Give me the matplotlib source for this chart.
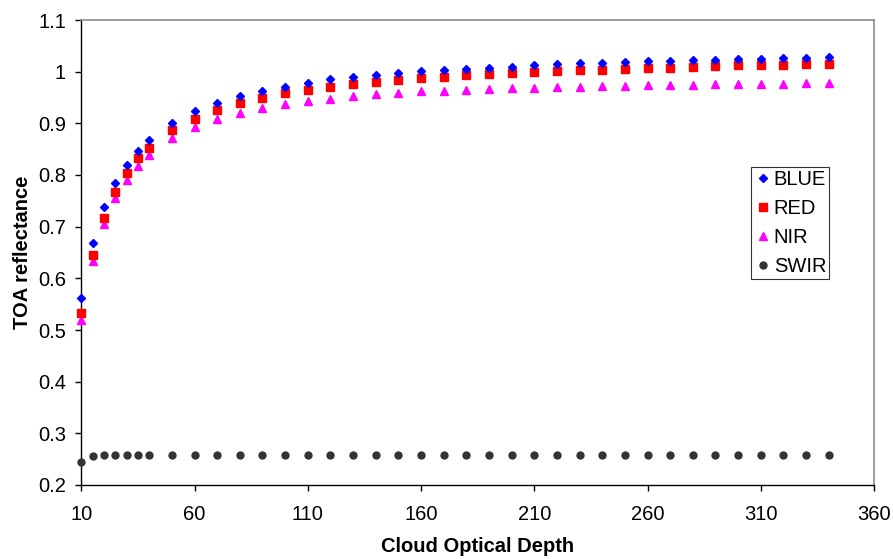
import matplotlib
matplotlib.use("Agg")
import matplotlib.pyplot as plt

plt.rcParams['font.family'] = ['Liberation Sans', 'DejaVu Sans']

# Cloud optical depth samples
depth = [10, 15, 20, 25, 30, 35, 40, 50, 60, 70, 80, 90, 100, 110, 120, 130,
         140, 150, 160, 170, 180, 190, 200, 210, 220, 230, 240, 250, 260, 270,
         280, 290, 300, 310, 320, 330, 340]

blue = [0.562, 0.668, 0.738, 0.785, 0.819, 0.847, 0.868, 0.900, 0.923, 0.940,
        0.953, 0.963, 0.971, 0.979, 0.985, 0.989, 0.994, 0.998, 1.001, 1.003,
        1.006, 1.008, 1.010, 1.012, 1.014, 1.016, 1.017, 1.019, 1.020, 1.021,
        1.022, 1.023, 1.024, 1.025, 1.026, 1.027, 1.028]

red = [0.532, 0.645, 0.717, 0.767, 0.804, 0.833, 0.853, 0.887, 0.909, 0.926,
       0.939, 0.950, 0.958, 0.965, 0.971, 0.976, 0.980, 0.984, 0.987, 0.990,
       0.993, 0.996, 0.998, 0.9995, 1.001, 1.003, 1.004, 1.006, 1.007, 1.008,
       1.009, 1.011, 1.012, 1.012, 1.013, 1.014, 1.015]

nir = [0.519, 0.633, 0.705, 0.755, 0.791, 0.818, 0.839, 0.871, 0.893, 0.909,
       0.920, 0.930, 0.937, 0.943, 0.948, 0.953, 0.956, 0.959, 0.962, 0.963,
       0.965, 0.967, 0.968, 0.969, 0.970, 0.971, 0.972, 0.973, 0.974, 0.974,
       0.975, 0.976, 0.976, 0.977, 0.977, 0.978, 0.978]

swir = [0.245, 0.257, 0.259, 0.259, 0.259, 0.259, 0.259, 0.259, 0.259, 0.259,
        0.259, 0.259, 0.259, 0.259, 0.259, 0.259, 0.259, 0.259, 0.259, 0.259,
        0.259, 0.259, 0.259, 0.259, 0.259, 0.259, 0.259, 0.259, 0.259, 0.259,
        0.259, 0.259, 0.259, 0.259, 0.259, 0.259, 0.259]

x_ticks = [10, 60, 110, 160, 210, 260, 310, 360]
y_ticks = [0.2, 0.3, 0.4, 0.5, 0.6, 0.7, 0.8, 0.9, 1.0, 1.1]
y_tick_labels = ['0.2', '0.3', '0.4', '0.5', '0.6', '0.7', '0.8', '0.9', '1', '1.1']

fig = plt.figure(figsize=(8.93, 5.59), dpi=100)
ax = fig.add_axes([81.3 / 893, 1 - 485 / 559, (874 - 81.3) / 893, (485 - 20) / 559])

ax.plot(depth, blue, linestyle='none', marker='D', markersize=4.4,
        color='#0000ff', label='BLUE', clip_on=False, zorder=5)
ax.plot(depth, red, linestyle='none', marker='s', markersize=5.8,
        color='#ff0000', label='RED', clip_on=False, zorder=4)
ax.plot(depth, nir, linestyle='none', marker='^', markersize=6.0,
        color='#ff00ff', label='NIR', clip_on=False, zorder=3)
ax.plot(depth, swir, linestyle='none', marker='o', markersize=5.0,
        color='#333333', label='SWIR', clip_on=False, zorder=3)

ax.set_xlim(10, 360)
ax.set_ylim(0.2, 1.1)
ax.set_xticks(x_ticks)
ax.set_xticklabels([str(t) for t in x_ticks])
ax.set_yticks(y_ticks)
ax.set_yticklabels(y_tick_labels)

ax.tick_params(axis='both', direction='out', length=4, width=1,
               labelsize=14.5, colors='black')
ax.tick_params(axis='y', pad=7)
ax.tick_params(axis='x', pad=10.5)

for side in ('top', 'right'):
    ax.spines[side].set_color('#8c8c8c')
    ax.spines[side].set_linewidth(1.2)
for side in ('left', 'bottom'):
    ax.spines[side].set_color('black')
    ax.spines[side].set_linewidth(1.0)

ax.set_xlabel('Cloud Optical Depth', fontsize=14.5, fontweight='bold', labelpad=9.5)
ax.set_ylabel('TOA reflectance', fontsize=14.5, fontweight='bold', labelpad=4.5)

leg = ax.legend(loc='upper left', bbox_to_anchor=((751 - 81.3) / (874 - 81.3), (485 - 167) / 465),
                fontsize=14.5, frameon=True, fancybox=False, handlelength=0.9,
                handletextpad=0.08, borderpad=0.15, labelspacing=0.5,
                borderaxespad=0)
leg.get_frame().set_edgecolor('black')
leg.get_frame().set_linewidth(0.8)

fig.savefig('out.png', dpi=100)
